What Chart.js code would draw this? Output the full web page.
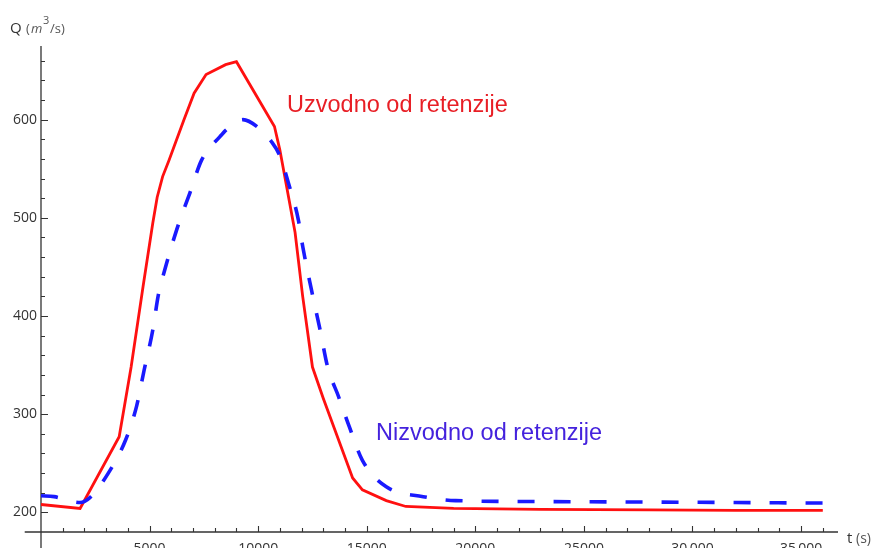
<!DOCTYPE html>
<html>
<head>
<meta charset="utf-8">
<script src="https://cdn.jsdelivr.net/npm/chart.js@4/dist/chart.umd.min.js"></script>
<style>
  html, body { margin: 0; padding: 0; background: #fff; }
  canvas { display: block; }
</style>
</head>
<body>
<canvas id="c" width="879" height="548"></canvas>
<script>
// ---- data ----
const tUpstream = [0, 1800, 3600, 4150, 4700, 5150, 5350, 5600, 5900, 6200, 6600, 7050, 7600, 8500, 9000, 10750, 11000, 11700, 12050, 12500, 13000, 14350, 14800, 15900, 16800, 19000, 23000, 28000, 32000, 36000];
const qUpstream = [208, 204, 277, 348, 430, 495, 521, 542, 559, 577, 601, 627, 646, 656, 659, 593, 569, 485, 420, 348, 316, 235, 223, 212, 206, 204, 203, 202.5, 202, 202];

const tDownstream = [0, 600, 1800, 2250, 3100, 3900, 4400, 4750, 5150, 5400, 5700, 6250, 6850, 7400, 8250, 8550, 9300, 10000, 10600, 11000, 11400, 11850, 12050, 12450, 12850, 13200, 13700, 14200, 14800, 15900, 17600, 19100, 23000, 28000, 32000, 36000];
const qDownstream = [217, 216, 210, 215, 240, 274, 308, 345, 386, 421, 447, 488, 525, 559, 583, 590, 600, 592, 578, 563, 535, 498, 471, 427, 386, 348, 318, 287, 253, 226, 216, 212, 211, 210.5, 210, 209.5];

const xTickValues = [5000, 10000, 15000, 20000, 25000, 30000, 35000];
const xTickLabels = ["5000", "10000", "15000", "20000", "25000", "30\u2009000", "35\u2009000"];
const yTickValues = [200, 300, 400, 500, 600];
const yTickLabels = ["200", "300", "400", "500", "600"];

const labelUpstream = "Uzvodno od retenzije";
const labelDownstream = "Nizvodno od retenzije";

const toPoints = (ts, qs) => ts.map((t, i) => ({ x: t, y: qs[i] }));

const axesPlugin = {
  id: 'mmaAxes',
  beforeDatasetsDraw(chart) {
    const { ctx, chartArea, scales: { x, y } } = chart;
    const x0 = x.getPixelForValue(0);
    const y0 = y.getPixelForValue(180);
    ctx.save();
    ctx.strokeStyle = '#333';
    ctx.lineWidth = 1.3;
    ctx.beginPath();
    ctx.moveTo(x.getPixelForValue(-750), y0);
    ctx.lineTo(chartArea.right, y0);
    ctx.moveTo(x0, chartArea.top);
    ctx.lineTo(x0, chart.height);
    ctx.stroke();
    ctx.lineWidth = 1.1;
    ctx.beginPath();
    for (let v = 1000; v <= 36000; v += 1000) {
      const px = Math.round(x.getPixelForValue(v)) + 0.5;
      const len = v % 5000 === 0 ? 6 : 4;
      ctx.moveTo(px, y0);
      ctx.lineTo(px, y0 - len);
    }
    for (let v = 200; v <= 660; v += 20) {
      const py = Math.round(y.getPixelForValue(v)) + 0.5;
      const len = v % 100 === 0 ? 7 : 4;
      ctx.moveTo(x0, py);
      ctx.lineTo(x0 + len, py);
    }
    ctx.stroke();
    ctx.restore();
  },
  afterDraw(chart) {
    const { ctx, scales: { x, y } } = chart;
    ctx.save();
    ctx.textBaseline = 'alphabetic';
    // axis labels
    ctx.fillStyle = '#333';
    ctx.font = '15px "Open Sans"';
    ctx.fillText('Q', 10, 33);
    ctx.fillStyle = '#555';
    ctx.font = '13px "Open Sans"';
    ctx.fillText('(', 26, 33);
    ctx.font = 'italic 13px "Open Sans"';
    ctx.fillText('m', 31, 33);
    ctx.font = '11px "Open Sans"';
    ctx.fillText('3', 43, 24);
    ctx.font = '13px "Open Sans"';
    ctx.fillText('/s)', 50, 33);
    ctx.fillStyle = '#333';
    ctx.font = '15px "Open Sans"';
    ctx.fillText('t', 847, 543);
    ctx.fillStyle = '#555';
    ctx.font = '14px "Open Sans"';
    ctx.fillText('(s)', 856, 543);
    // curve annotations
    ctx.font = '23.5px "Liberation Sans"';
    ctx.fillStyle = '#e81e25';
    ctx.fillText(labelUpstream, x.getPixelForValue(11330), y.getPixelForValue(608));
    ctx.fillStyle = '#4422dd';
    ctx.fillText(labelDownstream, x.getPixelForValue(15430), y.getPixelForValue(273.7));
    ctx.restore();
  }
};

new Chart(document.getElementById('c'), {
  type: 'line',
  data: {
    datasets: [
      {
        label: labelDownstream,
        data: toPoints(tDownstream, qDownstream),
        borderColor: '#1a1aff',
        borderWidth: 3.6,
        borderDash: [17, 19],
        pointRadius: 0,
        cubicInterpolationMode: 'monotone',
        fill: false
      },
      {
        label: labelUpstream,
        data: toPoints(tUpstream, qUpstream),
        borderColor: '#ff1010',
        borderWidth: 2.8,
        tension: 0,
        pointRadius: 0,
        fill: false
      }
    ]
  },
  options: {
    responsive: false,
    animation: false,
    devicePixelRatio: 1,
    layout: { padding: { left: 0, top: 46, right: 41, bottom: 0 } },
    plugins: { legend: { display: false }, tooltip: { enabled: false } },
    scales: {
      x: {
        type: 'linear',
        min: 0,
        max: 36700,
        grid: { display: false, drawTicks: false },
        border: { display: false },
        afterBuildTicks: s => { s.ticks = xTickValues.map(v => ({ value: v })); },
        afterFit: s => { s.height = 16; },
        ticks: {
          autoSkip: false,
          maxRotation: 0,
          padding: 9,
          color: '#333',
          font: { family: 'Open Sans', size: 14 },
          callback: (v) => xTickLabels[xTickValues.indexOf(v)]
        }
      },
      y: {
        type: 'linear',
        min: 180,
        max: 675,
        grid: { display: false, drawTicks: false },
        border: { display: false },
        afterBuildTicks: s => { s.ticks = yTickValues.map(v => ({ value: v })); },
        afterFit: s => { s.width = 41; },
        ticks: {
          padding: 4,
          color: '#333',
          font: { family: 'Open Sans', size: 14 },
          callback: (v) => yTickLabels[yTickValues.indexOf(v)]
        }
      }
    }
  },
  plugins: [axesPlugin]
});
</script>
</body>
</html>
